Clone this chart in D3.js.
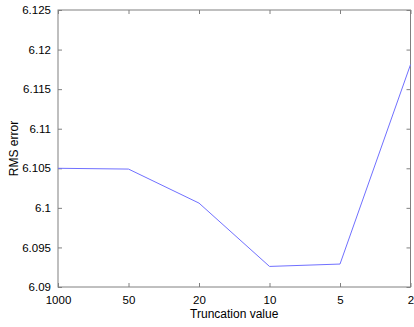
<!DOCTYPE html>
<html>
<head>
<meta charset="utf-8">
<script src="https://cdn.jsdelivr.net/npm/d3@7"></script>
<style>
  body { margin: 0; background: #fff; }
  text { font-family: "Liberation Sans", Arial, sans-serif; }
</style>
</head>
<body>
<div id="chart"></div>
<script>
// data
const categories = ["1000", "50", "20", "10", "5", "2"];
const rmsError = [6.1050, 6.1049, 6.1006, 6.0926, 6.0929, 6.1181];
const yTicks = [6.09, 6.095, 6.1, 6.105, 6.11, 6.115, 6.12, 6.125];

const width = 414, height = 327;
const margin = {left: 58, right: 3.5, top: 10, bottom: 40};
const innerW = width - margin.left - margin.right;
const innerH = height - margin.top - margin.bottom;

const svg = d3.select("#chart").append("svg")
    .attr("width", width)
    .attr("height", height);

const g = svg.append("g")
    .attr("transform", "translate(" + margin.left + "," + margin.top + ")");

const x = d3.scalePoint().domain(categories).range([0, innerW]);
const y = d3.scaleLinear().domain([6.09, 6.125]).range([innerH, 0]);

const axisColor = "#808080";

// frame
g.append("rect")
    .attr("x", 0).attr("y", 0)
    .attr("width", innerW).attr("height", innerH)
    .attr("fill", "none")
    .attr("stroke", axisColor)
    .attr("stroke-width", 1);

function styleAxis(sel) {
    sel.select(".domain").remove();
    sel.selectAll(".tick line").attr("stroke", axisColor);
    sel.selectAll(".tick text")
        .attr("fill", "#000")
        .attr("font-size", 11.5);
}

// bottom axis, ticks pointing in
g.append("g")
    .attr("transform", "translate(0," + innerH + ")")
    .call(d3.axisBottom(x).tickSizeInner(-4).tickSizeOuter(0).tickPadding(8.5))
    .call(styleAxis);

// top mirror ticks
g.append("g")
    .call(d3.axisTop(x).tickSizeInner(-4).tickSizeOuter(0).tickFormat(""))
    .call(styleAxis);

// left axis
g.append("g")
    .call(d3.axisLeft(y).tickValues(yTicks).tickFormat(d3.format("")).tickSizeInner(-4).tickSizeOuter(0).tickPadding(7))
    .call(styleAxis);

// right mirror ticks
g.append("g")
    .attr("transform", "translate(" + innerW + ",0)")
    .call(d3.axisRight(y).tickValues(yTicks).tickSizeInner(-4).tickSizeOuter(0).tickFormat(""))
    .call(styleAxis);

// the line
const line = d3.line()
    .x((d, i) => x(categories[i]))
    .y(d => y(d));

g.append("path")
    .datum(rmsError)
    .attr("d", line)
    .attr("fill", "none")
    .attr("stroke", "#7070ff")
    .attr("stroke-width", 1);

// axis labels
svg.append("text")
    .attr("x", margin.left + innerW / 2)
    .attr("y", 317.5)
    .attr("text-anchor", "middle")
    .attr("font-size", 12)
    .text("Truncation value");

svg.append("text")
    .attr("transform", "translate(17.5," + (margin.top + innerH / 2) + ")rotate(-90)")
    .attr("text-anchor", "middle")
    .attr("font-size", 12)
    .text("RMS error");
</script>
</body>
</html>
